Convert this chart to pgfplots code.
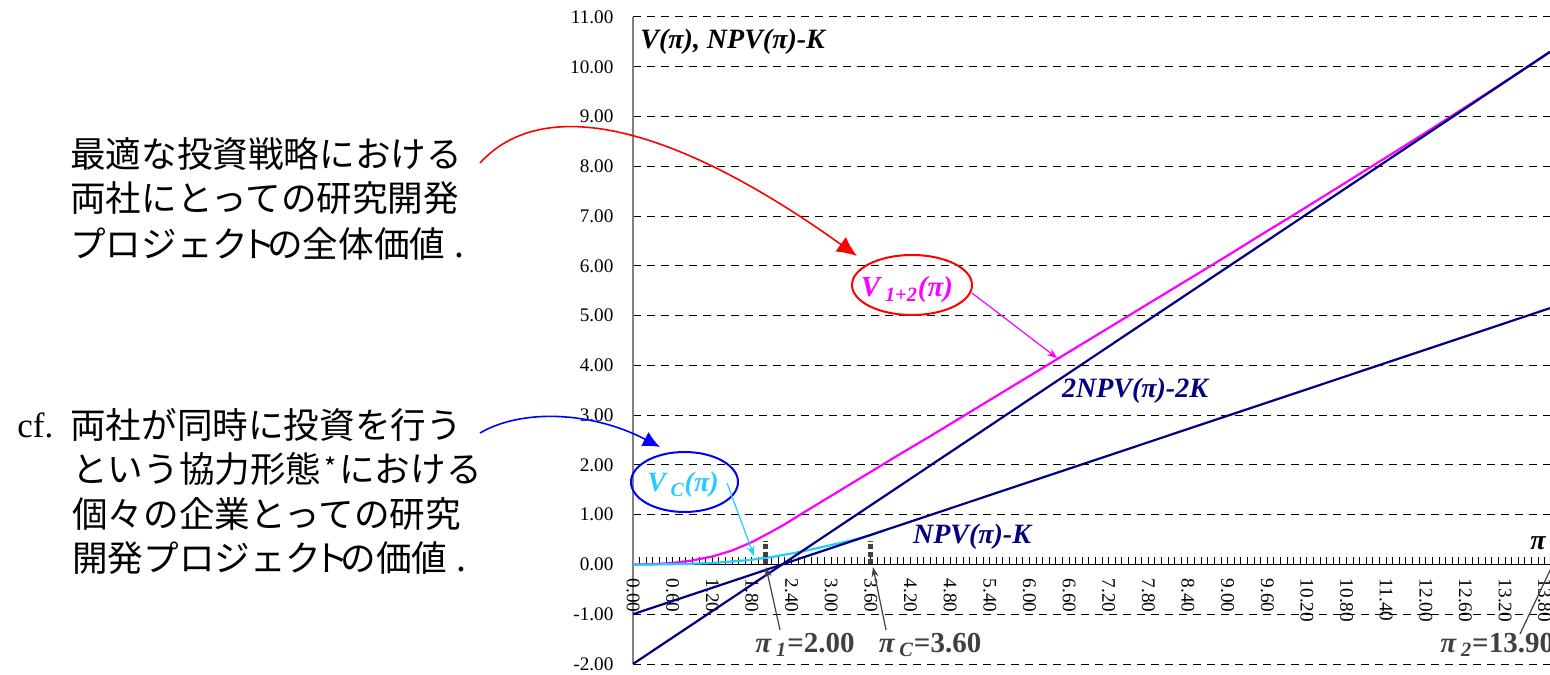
\documentclass[border=0pt]{standalone}
\usepackage{fontspec}
\setmainfont{Liberation Serif}
\newfontfamily\jp{Noto Sans CJK JP}
\usepackage{pgfplots}
\pgfplotsset{compat=1.18}
\usetikzlibrary{arrows.meta}
\definecolor{navy}{HTML}{000080}
\definecolor{mag}{HTML}{FF00FF}
\definecolor{cyn}{HTML}{22CCFF}
\definecolor{dgray}{HTML}{404040}
\newcommand{\narrowto}{\hspace{-0.22em}ト\hspace{-0.25em}}
\begin{document}
\begin{tikzpicture}
\begin{axis}[
  at={(0,0)}, anchor=south west,
  scale only axis, width=458.5pt, height=323.5pt,
  xmin=0, xmax=13.88, ymin=-2, ymax=11,
  axis x line=middle, axis y line=left,
  hide obscured x ticks=false, hide obscured y ticks=false,
  x axis line style={-, black, line width=0.6pt},
  y axis line style={-, gray, line width=0.8pt},
  xtick={0,0.6,1.2,1.8,2.4,3.0,3.6,4.2,4.8,5.4,6.0,6.6,7.2,7.8,8.4,9.0,9.6,10.2,10.8,11.4,12.0,12.6,13.2,13.8},
  minor x tick num=5,
  xtick align=inside,
  major tick length=3.5pt, minor tick length=3.5pt,
  xtick style={black, line width=0.5pt},
  minor x tick style={black, line width=0.5pt},
  ytick={-2,-1,...,11},
  ytick style={draw=none},
  ymajorgrids,
  major grid style={black, line width=0.5pt, dash pattern=on 4pt off 3pt},
  xticklabel style={yshift=-7pt, rotate=-90, anchor=west, font=\fontsize{9.6}{10}\selectfont, inner sep=0pt},
  yticklabel style={xshift=-4.5pt, font=\fontsize{9.6}{10}\selectfont},
  /pgf/number format/fixed, /pgf/number format/fixed zerofill,
  /pgf/number format/precision=2, /pgf/number format/assume math mode=true,
  clip=true,
]
% V_{1+2}
\addplot[mag, line width=1.1pt] coordinates {
 (0,0) (0.3,0.005) (0.6,0.03) (0.9,0.08) (1.2,0.16) (1.5,0.28) (1.8,0.45)
 (2.1,0.66) (2.3,0.81) (2.5,0.976) (3.0,1.379) (3.5,1.782) (4.0,2.185) (4.5,2.578)
 (5.0,2.981) (5.5,3.384) (6.0,3.787) (6.5,4.190) (7.0,4.593) (7.5,4.997) (8.0,5.400)
 (8.5,5.803) (9.0,6.206) (9.5,6.619) (10.0,7.022) (10.5,7.435) (11.0,7.848) (11.5,8.261)
 (12.0,8.679) (12.5,9.103) (13.0,9.531) (13.5,9.966) (13.88,10.30)};
% V_C
\addplot[cyn, line width=1.1pt] coordinates {
 (0,0) (0.3,0.0) (0.6,0.005) (0.9,0.015) (1.2,0.03) (1.5,0.06) (1.8,0.095)
 (2.1,0.15) (2.4,0.22) (2.7,0.30) (3.0,0.39) (3.3,0.48) (3.6,0.59) (3.8,0.68)};
% NPV - K
\addplot[navy, line width=1.1pt] coordinates {(0,-1) (13.88,5.15)};
% 2NPV - 2K
\addplot[navy, line width=1.1pt] coordinates {(0,-2) (13.88,10.30)};
% dotted markers
\addplot[dgray, line width=2.6pt, dash pattern=on 2.6pt off 1.2pt] coordinates {(2.0,0) (2.0,0.48)};
\addplot[dgray, line width=2.6pt, dash pattern=on 2.6pt off 1.2pt] coordinates {(3.6,0) (3.6,0.48)};
\end{axis}
% labels in plot
\node[anchor=west, inner sep=0pt, font=\bfseries\itshape\fontsize{14}{15}\selectfont] at (3.5pt,311pt) {V(π), NPV(π)-K};
\node[inner sep=0pt, font=\bfseries\itshape\fontsize{14}{15}\selectfont] at (452.5pt,60.5pt) {π};
\node[inner sep=0pt, text=navy, font=\bfseries\itshape\fontsize{14}{15}\selectfont] at (169.5pt,63.5pt) {NPV(π)-K};
\node[inner sep=0pt, text=navy, font=\bfseries\itshape\fontsize{14}{15}\selectfont] at (251pt,136.5pt) {2NPV(π)-2K};
% ellipses
\draw[red, line width=1pt] (139.5pt,189.5pt) ellipse [x radius=30pt, y radius=15pt];
\node[inner sep=0pt, text=mag, font=\bfseries\itshape\fontsize{14.5}{15}\selectfont] at (137pt,187pt) {V\,\textsubscript{1+2}(π)};
\draw[blue, line width=1pt] (25.75pt,91pt) ellipse [x radius=26.75pt, y radius=15pt];
\node[inner sep=0pt, text=cyn, font=\bfseries\itshape\fontsize{14}{15}\selectfont] at (25pt,89.5pt) {V\,\textsubscript{C}(π)};
% pointer arrows
\draw[mag, line width=0.6pt, -{Stealth[length=5pt,width=4pt]}] (169.5pt,185.5pt) -- (212pt,153pt);
\draw[cyn, line width=0.6pt, -{Stealth[length=5pt,width=4pt]}] (47pt,90.5pt) -- (60.5pt,54pt);
\draw[dgray, line width=0.6pt, -{Stealth[length=5pt,width=3.5pt]}] (73.5pt,17pt) -- (66.5pt,48.5pt);
\draw[dgray, line width=0.6pt, -{Stealth[length=5pt,width=3.5pt]}] (126.5pt,17pt) -- (120pt,48.5pt);
\draw[dgray, line width=0.6pt] (443.5pt,15pt) -- (460pt,50pt);
% pi labels
\node[inner sep=0pt, text=dgray, font=\bfseries\fontsize{14.5}{15}\selectfont] at (86pt,9.5pt) {{\itshape π\,\textsubscript{1}}=2.00};
\node[inner sep=0pt, text=dgray, font=\bfseries\fontsize{14.5}{15}\selectfont] at (148.5pt,9.5pt) {{\itshape π\,\textsubscript{C}}=3.60};
\node[anchor=west, inner sep=0pt, text=dgray, font=\bfseries\fontsize{14.5}{15}\selectfont] at (403.5pt,9.5pt) {{\itshape π\,\textsubscript{2}}=13.90};
% curved arrows
\draw[red, line width=0.8pt, -{Latex[length=10pt,width=9pt]}] (-76.5pt,250.5pt) .. controls (-45pt,285pt) and (20pt,270pt) .. (112pt,204pt);
\draw[blue, line width=0.8pt, -{Latex[length=8.5pt,width=8pt]}] (-76.5pt,115.5pt) .. controls (-55pt,128pt) and (-20pt,126pt) .. (13.5pt,108.5pt);
% Japanese text
\begin{scope}[every node/.style={anchor=west, inner sep=0pt, font=\jp\fontsize{17.8}{20}\selectfont}]
\node at (-281.5pt,255.25pt) {最適な投資戦略における};
\node at (-281.5pt,232.75pt) {両社にとっての研究開発};
\node at (-281.5pt,210.25pt) {プロジェク\narrowto の全体価値\hspace{0.25em}.};
\node at (-281.5pt,119.5pt) {両社が同時に投資を行う};
\node at (-280.5pt,97.5pt) {という協力形態\makebox[0.5em]{\raisebox{0.15em}{\fontsize{13}{13}\selectfont *}}における};
\node at (-280.5pt,75pt) {個々の企業とっての研究};
\node at (-280.5pt,53pt) {開発プロジェク\narrowto の価値\hspace{0.25em}.};
\end{scope}
\node[anchor=west, inner sep=0pt, font=\fontsize{17.5}{20}\selectfont] at (-308pt,119.5pt) {cf.};
\pgfresetboundingbox
\path[use as bounding box] (-316.5pt,-5pt) rectangle (458.5pt,332pt);
\end{tikzpicture}
\end{document}
